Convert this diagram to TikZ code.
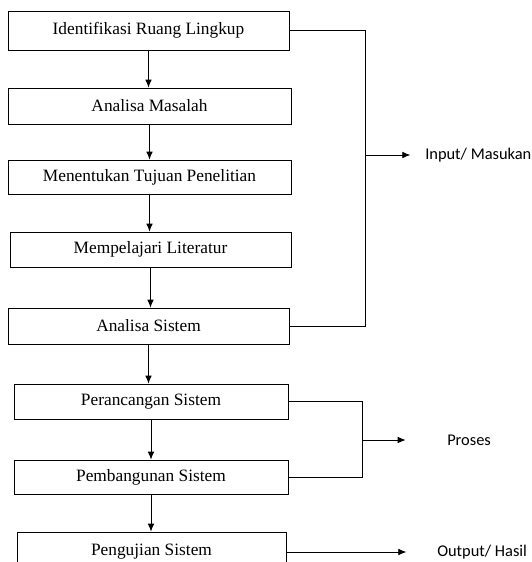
\documentclass[tikz,border=0pt]{standalone}
\usepackage{fontspec}
\setmainfont{Liberation Serif}
\newfontfamily\calibri{Carlito}
\usetikzlibrary{arrows.meta}
\tikzset{
  box/.style={draw, line width=0.6pt, inner sep=0pt, font=\fontsize{13}{15}\selectfont},
  arr/.style={line width=0.6pt, -{Latex[length=6pt,width=5pt]}},
  lab/.style={font=\calibri\fontsize{12.3}{14}\selectfont, anchor=west, inner sep=0pt},
}

\begin{document}
\begin{tikzpicture}[x=0.75pt,y=-0.75pt]
        \clip (0,0) rectangle (532,562);
        % tahapan
        \node[box, minimum width=210.75pt, minimum height=29.25pt] (b1) at (148.5,30.5) {Identifikasi Ruang Lingkup};
        \node[box, minimum width=212.25pt, minimum height=27pt] (b2) at (149.5,106) {Analisa Masalah};
        \node[box, minimum width=212.25pt, minimum height=25.5pt] (b3) at (149.5,177) {Menentukan Tujuan Penelitian};
        \node[box, minimum width=210.75pt, minimum height=26.25pt] (b4) at (150.5,249.5) {Mempelajari Literatur};
        \node[box, minimum width=210.75pt, minimum height=27pt] (b5) at (148.5,326) {Analisa Sistem};
        \node[box, minimum width=205.5pt, minimum height=26.25pt] (b6) at (151,401.5) {Perancangan Sistem};
        \node[box, minimum width=205.5pt, minimum height=25.5pt] (b7) at (151,477) {Pembangunan Sistem};
        \node[box, minimum width=201.75pt, minimum height=30pt] (b8) at (151.5,552) {Pengujian Sistem};
        \foreach \a/\b in {b1/b2,b2/b3,b3/b4,b4/b5,b5/b6,b6/b7,b7/b8} {
            \draw[arr] (\a.south) -- (\a.south |- \b.north);
        }
        % keterangan
        \node[lab] (inp) at (425,155) {Input/ Masukan};
        \node[lab] (pro) at (447,440) {Proses};
        \node[lab] (out) at (437,552) {Output/ Hasil};
        \coordinate (jin) at (365,155);
        \coordinate (jpro) at (362,440);
        \draw[line width=0.6pt] (b1.east) -- (jin |- b1.east) -- (jin |- b5.east) -- (b5.east);
        \draw[line width=0.6pt] (b6.east) -- (jpro |- b6.east) -- (jpro |- b7.east) -- (b7.east);
        \draw[arr, shorten >=11pt] (jin) -- (inp.west);
        \draw[arr, shorten >=31pt] (jpro) -- (pro.west);
        \draw[arr, shorten >=23pt] (b8.east) -- (out.west);
\end{tikzpicture}
\end{document}
